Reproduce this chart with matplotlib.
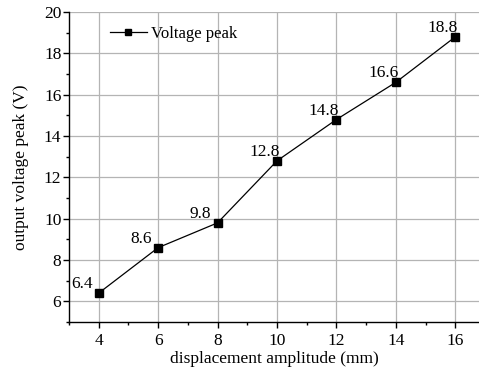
import matplotlib
matplotlib.use("Agg")
import matplotlib.pyplot as plt
from matplotlib.ticker import MultipleLocator

plt.rcParams['font.family'] = ['Liberation Serif', 'DejaVu Serif']

displacement = [4, 6, 8, 10, 12, 14, 16]
voltage = [6.4, 8.6, 9.8, 12.8, 14.8, 16.6, 18.8]
labels = ["6.4", "8.6", "9.8", "12.8", "14.8", "16.6", "18.8"]

fig = plt.figure(figsize=(4.79, 3.78), dpi=100)
ax = fig.add_axes([0.144, 0.148, 0.856, 0.82])
ax.plot(displacement, voltage, color='black', lw=0.9, marker='s', markersize=5.2,
        label='Voltage peak', zorder=3)
for x, y, t in zip(displacement, voltage, labels):
    ax.annotate(t, (x, y), xytext=(-20, 3.6), textcoords='offset points',
                ha='left', va='baseline', fontsize=12.5)

ax.set_xlim(3, 16.8)
ax.set_ylim(5, 20)
ax.xaxis.set_minor_locator(MultipleLocator(1))
ax.yaxis.set_minor_locator(MultipleLocator(1))
ax.set_xticks(range(4, 17, 2))
ax.set_yticks(range(6, 21, 2))
ax.tick_params(which='both', direction='out', labelsize=12.5, width=1)
ax.tick_params(which='major', length=4)
ax.tick_params(which='minor', length=2.5)
ax.tick_params(axis='x', pad=4)
ax.tick_params(axis='y', pad=1.5)
ax.grid(True, which='major', color='#b4b4b4', lw=0.9)
ax.set_axisbelow(True)
for s in ['top', 'right']:
    ax.spines[s].set_visible(False)
ax.spines['left'].set_linewidth(1)
ax.spines['bottom'].set_linewidth(1)
ax.set_xlabel('displacement amplitude (mm)', fontsize=12.5, labelpad=1)
ax.set_ylabel('output voltage peak (V)', fontsize=12.5, labelpad=11)
ax.legend(loc='center left', frameon=False, fontsize=12, handlelength=2.2,
          handletextpad=0.25, borderpad=0, borderaxespad=0, markerscale=0.8,
          bbox_to_anchor=(110 / 479, 1 - 34 / 378), bbox_transform=fig.transFigure)
fig.savefig('out.png', dpi=100)
